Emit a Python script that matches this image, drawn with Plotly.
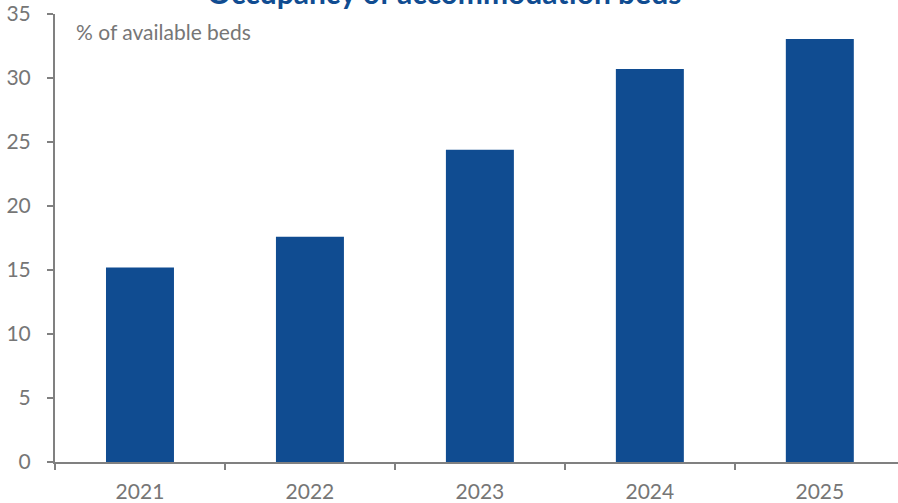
import plotly.graph_objects as go

# Occupancy of accommodation beds, % of available beds
years = ["2021", "2022", "2023", "2024", "2025"]
occupancy = [15.2, 17.6, 24.4, 30.7, 33.05]

y_ticks = [0, 5, 10, 15, 20, 25, 30, 35]

bar_color = "#104C91"
axis_color = "#808080"
text_color = "#767676"
font_family = "Lato, Open Sans, sans-serif"

fig = go.Figure(
    go.Bar(
        x=years,
        y=occupancy,
        marker=dict(color=bar_color, line=dict(width=0)),
        width=0.4,
    )
)

fig.update_layout(
    width=898,
    height=503,
    margin=dict(l=55, r=0, t=14, b=41),
    paper_bgcolor="white",
    plot_bgcolor="white",
    showlegend=False,
    annotations=[
        dict(
            text="<b>Occupancy of accommodation beds</b>",
            xref="paper",
            yref="paper",
            x=0.461,
            y=1.05,
            xanchor="center",
            yanchor="middle",
            showarrow=False,
            font=dict(family=font_family, size=30, color="#104C91"),
        ),
        dict(
            text="% of available beds",
            xref="paper",
            yref="paper",
            x=0.022,
            y=0.962,
            xanchor="left",
            yanchor="middle",
            showarrow=False,
            font=dict(family=font_family, size=21, color=text_color),
        ),
    ],
)

fig.update_xaxes(
    type="category",
    range=[-0.5, 4.46],
    showline=True,
    linecolor=axis_color,
    linewidth=2,
    ticks="outside",
    tickson="boundaries",
    ticklen=6,
    tickwidth=2,
    tickcolor=axis_color,
    showgrid=False,
    ticklabelstandoff=10,
    tickfont=dict(family=font_family, size=21, color=text_color),
)

fig.update_yaxes(
    range=[0, 35],
    tickvals=y_ticks,
    showline=True,
    linecolor=axis_color,
    linewidth=2,
    ticks="outside",
    ticklen=6,
    tickwidth=2,
    tickcolor=axis_color,
    showgrid=False,
    zeroline=False,
    ticklabelstandoff=12,
    tickfont=dict(family=font_family, size=21, color=text_color),
)

fig.write_html("out.html")
